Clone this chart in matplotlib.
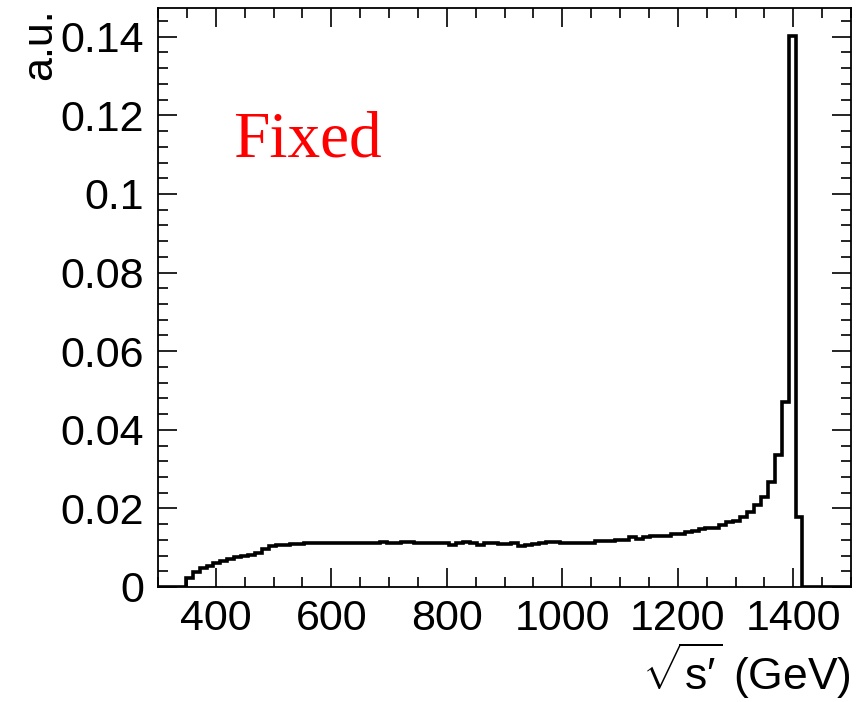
import numpy as np
import matplotlib
matplotlib.use("Agg")
import matplotlib.pyplot as plt
from matplotlib.ticker import MultipleLocator, FormatStrFormatter

plt.rcParams['font.family'] = ['Liberation Sans', 'DejaVu Sans']
plt.rcParams['mathtext.fontset'] = 'custom'
plt.rcParams['mathtext.rm'] = 'Liberation Sans'
plt.rcParams['mathtext.it'] = 'Liberation Sans'

# histogram: 100 bins of 12 GeV from 300 to 1500
edges = np.linspace(300, 1500, 101)
values = [
    0, 0, 0, 0, 0.0024, 0.0037, 0.0048, 0.0054, 0.0060, 0.0066,
    0.0071, 0.0076, 0.0079, 0.0082, 0.0087, 0.0096, 0.0104, 0.0106, 0.0108, 0.0109,
    0.0110, 0.0111, 0.0112, 0.0112, 0.0111, 0.0112, 0.0112, 0.0112, 0.0112, 0.0112,
    0.0112, 0.0112, 0.0115, 0.0113, 0.0112, 0.0115, 0.0115, 0.0113, 0.0113, 0.0113,
    0.0112, 0.0112, 0.0108, 0.0112, 0.0114, 0.0113, 0.0108, 0.0111, 0.0111, 0.0110,
    0.0110, 0.0113, 0.0105, 0.0107, 0.0109, 0.0111, 0.0114, 0.0114, 0.0112, 0.0111,
    0.0111, 0.0111, 0.0111, 0.0116, 0.0117, 0.0117, 0.0119, 0.0119, 0.0126, 0.0121,
    0.0128, 0.0129, 0.0130, 0.0131, 0.0135, 0.0136, 0.0141, 0.0142, 0.0148, 0.0149,
    0.0150, 0.0157, 0.0165, 0.0168, 0.0179, 0.0192, 0.0209, 0.0230, 0.0267, 0.0337,
    0.0471, 0.1403, 0.0178, 0, 0, 0, 0, 0, 0, 0,
]
ytick_vals = [0, 0.02, 0.04, 0.06, 0.08, 0.1, 0.12, 0.14]
xtick_vals = [400, 600, 800, 1000, 1200, 1400]

W, H = 863, 702
fig = plt.figure(figsize=(W / 100, H / 100), dpi=100)
ax = fig.add_axes([158/W, 115/H, 693/W, 579/H])

ax.stairs(values, edges, color='black', lw=2.6)

ax.set_xlim(300, 1500)
ax.set_ylim(0, 1.05 * max(values))
ax.set_xticks(xtick_vals)
ax.set_yticks(ytick_vals)
ax.xaxis.set_minor_locator(MultipleLocator(50))
ax.yaxis.set_minor_locator(MultipleLocator(0.004))
ax.yaxis.set_major_formatter(FormatStrFormatter('%g'))

ax.tick_params(which='both', direction='in', top=True, right=True, width=1.2,
               labelsize=31)
ax.tick_params(which='major', length=14)
ax.tick_params(which='minor', length=7)
ax.tick_params(axis='x', pad=9)
ax.tick_params(axis='y', pad=10)
for s in ax.spines.values():
    s.set_linewidth(1.3)

ax.text(0.108, 0.743, 'Fixed', transform=ax.transAxes, color='red',
        fontsize=47, family=['Liberation Serif', 'DejaVu Serif'])

fig.text(40/W, 1 - 8/H, 'a.u.', rotation=90, ha='center', va='top', fontsize=31)
fig.text(851/W, 1 - 690/H, "$\\sqrt{\\mathrm{s\u2032}}$ (GeV)", ha='right',
         va='baseline', fontsize=32)

fig.savefig('out.png', dpi=100)
